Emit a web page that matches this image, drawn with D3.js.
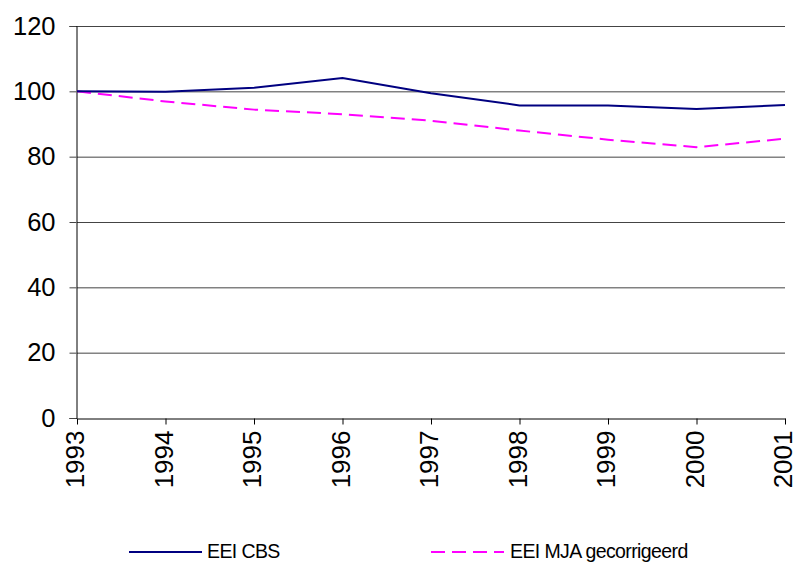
<!DOCTYPE html>
<html><head><meta charset="utf-8">
<script src="https://cdn.jsdelivr.net/npm/d3@7"></script>
<style>body{margin:0;background:#fff}svg{display:block}text{font-family:"Liberation Sans",Arial,sans-serif}</style>
</head><body>
<svg id="c" width="798" height="567"></svg>
<script>
const years = [1993,1994,1995,1996,1997,1998,1999,2000,2001];
const eeiCBS = [100,99.9,101.1,104.1,99.4,95.7,95.7,94.6,95.8];
const eeiMJA = [100,96.9,94.4,93.0,91.0,88.0,85.2,82.9,85.5];
const yTicks = [0,20,40,60,80,100,120];
const seriesNames = ["EEI CBS","EEI MJA gecorrigeerd"];
const colors = ["#000080","#FF00FF"];

const svg = d3.select("#c");
const x = d3.scaleLinear().domain([1993,2001]).range([77,785]);
const y = d3.scaleLinear().domain([0,120]).range([418,26]);

// gridlines
svg.append("g").selectAll("line").data(yTicks.filter(d=>d>0)).join("line")
  .attr("x1",77).attr("x2",785).attr("y1",d=>y(d)+0.5).attr("y2",d=>y(d)+0.5)
  .attr("stroke","#444").attr("stroke-width",1);

// y axis
const ya = svg.append("g").attr("transform","translate(76.5,0)")
  .call(d3.axisLeft(y).tickValues(yTicks).tickSize(7).tickPadding(14));
ya.select(".domain").attr("stroke","#000");
ya.selectAll(".tick line").attr("stroke","#444");
ya.selectAll("text").attr("font-size",25.5).attr("fill","#000").attr("font-family","'Liberation Sans',Arial,sans-serif");

// x axis
const xa = svg.append("g").attr("transform","translate(0,418.5)")
  .call(d3.axisBottom(x).tickValues(years).tickFormat(d3.format("d")).tickSize(6).tickSizeOuter(0));
xa.select(".domain").attr("stroke","#000");
xa.selectAll("text").attr("font-size",26).attr("fill","#000")
  .attr("font-family","'Liberation Sans',Arial,sans-serif")
  .attr("transform","rotate(-90)").attr("text-anchor","end")
  .attr("x",-12).attr("y",-2.5).attr("dy","0.35em");

const line = d3.line().x((d,i)=>x(years[i])).y(d=>y(d));
svg.append("path").datum(eeiMJA).attr("d",line).attr("fill","none")
  .attr("stroke",colors[1]).attr("stroke-width",2).attr("stroke-dasharray","14,7");
svg.append("path").datum(eeiCBS).attr("d",line).attr("fill","none")
  .attr("stroke",colors[0]).attr("stroke-width",2);

// legend
const lg = [{x1:129,x2:202,tx:207},{x1:431,x2:504,tx:510}];
lg.forEach((l,i)=>{
  svg.append("line").attr("x1",l.x1).attr("x2",l.x2).attr("y1",552).attr("y2",552)
    .attr("stroke",colors[i]).attr("stroke-width",2)
    .attr("stroke-dasharray", i===1 ? "14,7" : null);
  svg.append("text").attr("x",l.tx).attr("y",551).attr("dy","0.35em")
    .attr("font-size",19.5).attr("letter-spacing","-0.6").text(seriesNames[i]);
});
</script>
</body></html>
